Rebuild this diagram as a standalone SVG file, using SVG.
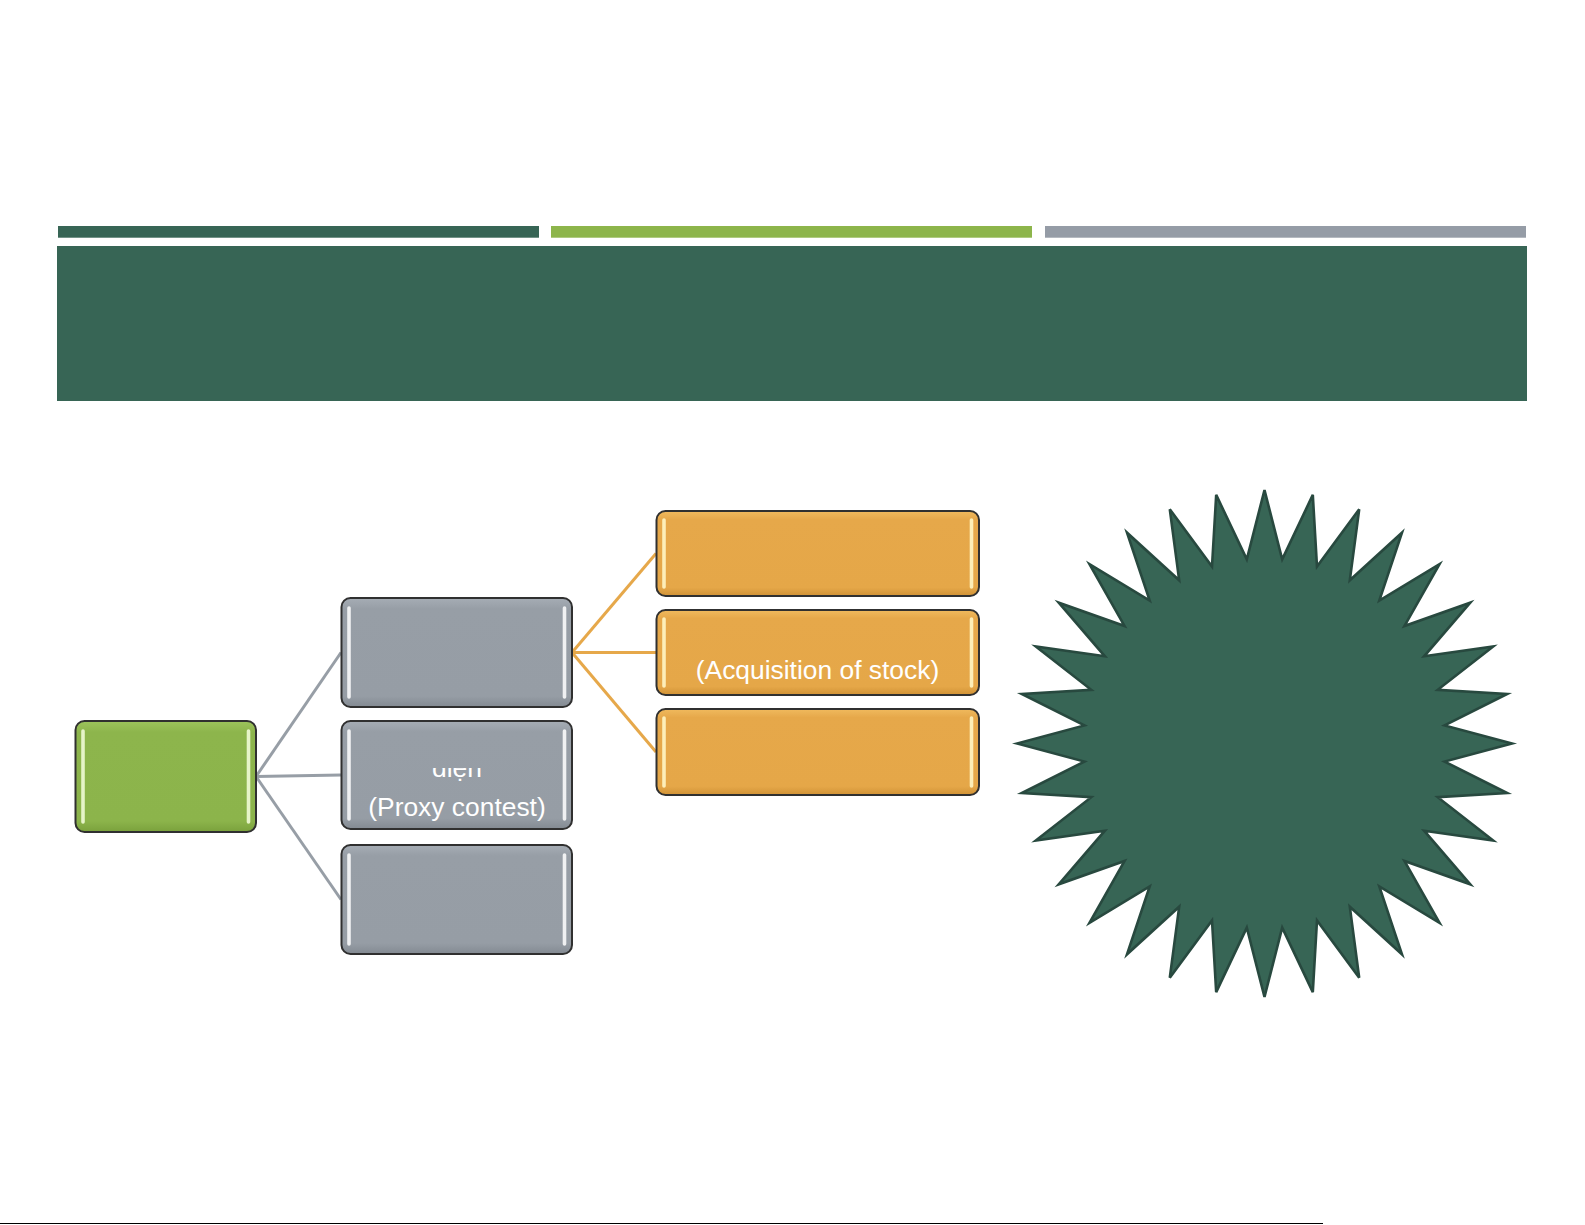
<svg xmlns="http://www.w3.org/2000/svg" width="1585" height="1225" viewBox="0 0 1585 1225">
<defs>
<style>
.box{stroke:#303030;stroke-width:2}
.hl{stroke:#ffffff;stroke-opacity:0.85;stroke-width:3.6;stroke-linecap:round;fill:none}
.hlo{stroke:#fff6c4;stroke-opacity:0.9;stroke-width:3.6;stroke-linecap:round;fill:none}
.hlg{stroke:#f0fbd6;stroke-opacity:0.9;stroke-width:3.6;stroke-linecap:round;fill:none}
.txt{font-family:"Liberation Sans",Arial,sans-serif;font-size:26.4px;fill:#ffffff;text-anchor:middle}
.cg{stroke:#979ea6;stroke-width:3;fill:none}
.co{stroke:#e6a84a;stroke-width:3;fill:none}
</style>
<linearGradient id="gGray" x1="0" y1="0" x2="0" y2="1">
<stop offset="0" stop-color="#a6adb5"/><stop offset="0.1" stop-color="#979ea6"/><stop offset="0.9" stop-color="#969da5"/><stop offset="1" stop-color="#838a92"/>
</linearGradient>
<linearGradient id="gOr" x1="0" y1="0" x2="0" y2="1">
<stop offset="0" stop-color="#f0ba5e"/><stop offset="0.1" stop-color="#e6a84a"/><stop offset="0.9" stop-color="#e5a748"/><stop offset="1" stop-color="#d09236"/>
</linearGradient>
<linearGradient id="gGr" x1="0" y1="0" x2="0" y2="1">
<stop offset="0" stop-color="#9dc45c"/><stop offset="0.1" stop-color="#8db54c"/><stop offset="0.9" stop-color="#8cb44b"/><stop offset="1" stop-color="#7aa13c"/>
</linearGradient>
<clipPath id="clipDien"><rect x="341" y="768" width="231" height="61"/></clipPath>
</defs>
<rect width="1585" height="1225" fill="#ffffff"/>
<g id="header">
<rect x="58" y="226" width="481" height="11.7" fill="#376555"/>
<rect x="551" y="226" width="481" height="11.7" fill="#8db54b"/>
<rect x="1045" y="226" width="481" height="11.7" fill="#959ca6"/>
<rect x="57" y="246" width="1470" height="155" fill="#376555"/>
</g>
<g id="connectors">
<line class="cg" x1="256" y1="776.5" x2="341" y2="652.5"/>
<line class="cg" x1="256" y1="776.5" x2="341" y2="775"/>
<line class="cg" x1="256" y1="776.5" x2="341" y2="899.5"/>
<line class="co" x1="572" y1="652.5" x2="656" y2="553.5"/>
<line class="co" x1="572" y1="652.5" x2="656" y2="652.5"/>
<line class="co" x1="572" y1="652.5" x2="656" y2="752"/>
</g>
<g id="root">
<rect class="box" x="75.5" y="721" width="180.5" height="111" rx="9" fill="url(#gGr)"/>
<line class="hlg" x1="83" y1="731" x2="83" y2="822"/>
<line class="hlg" x1="248.5" y1="731" x2="248.5" y2="822"/>
</g>
<g id="gray1">
<rect class="box" x="341.5" y="598" width="230.5" height="109" rx="9" fill="url(#gGray)"/>
<line class="hl" x1="349" y1="608" x2="349" y2="697"/>
<line class="hl" x1="564.5" y1="608" x2="564.5" y2="697"/>
</g>
<g id="gray2">
<rect class="box" x="341.5" y="721" width="230.5" height="108" rx="9" fill="url(#gGray)"/>
<line class="hl" x1="349" y1="731" x2="349" y2="819"/>
<line class="hl" x1="564.5" y1="731" x2="564.5" y2="819"/>
<text class="txt" x="457" y="777" clip-path="url(#clipDien)">diện</text>
<text class="txt" x="457" y="816">(Proxy contest)</text>
</g>
<g id="gray3">
<rect class="box" x="341.5" y="845" width="230.5" height="109" rx="9" fill="url(#gGray)"/>
<line class="hl" x1="349" y1="855" x2="349" y2="944"/>
<line class="hl" x1="564.5" y1="855" x2="564.5" y2="944"/>
</g>
<g id="orange1">
<rect class="box" x="656.5" y="511" width="322.5" height="85" rx="9" fill="url(#gOr)"/>
<line class="hlo" x1="664" y1="520" x2="664" y2="587"/>
<line class="hlo" x1="971.5" y1="520" x2="971.5" y2="587"/>
</g>
<g id="orange2">
<rect class="box" x="656.5" y="610" width="322.5" height="85" rx="9" fill="url(#gOr)"/>
<line class="hlo" x1="664" y1="619" x2="664" y2="686"/>
<line class="hlo" x1="971.5" y1="619" x2="971.5" y2="686"/>
<text class="txt" x="817.5" y="679">(Acquisition of stock)</text>
</g>
<g id="orange3">
<rect class="box" x="656.5" y="709" width="322.5" height="86" rx="9" fill="url(#gOr)"/>
<line class="hlo" x1="664" y1="718" x2="664" y2="786"/>
<line class="hlo" x1="971.5" y1="718" x2="971.5" y2="786"/>
</g>
<g id="star">
<polygon fill="#376555" stroke="#28493f" stroke-width="2.6" stroke-linejoin="miter" points="1264.5,490 1282.2,559.4 1312.8,494.9 1317,566.5 1359.2,509.3 1349.8,580.3 1402,532.7 1379.3,600.5 1439.5,564.2 1404.4,626.1 1470.3,602.7 1424.1,656.3 1493.2,646.5 1437.7,689.8 1507.2,694 1444.6,725.4 1512,743.5 1444.6,761.6 1507.2,793 1437.7,797.2 1493.2,840.5 1424.1,830.7 1470.3,884.3 1404.4,860.9 1439.5,922.8 1379.3,886.5 1402,954.3 1349.8,906.7 1359.2,977.7 1317,920.5 1312.8,992.1 1282.2,927.6 1264.5,997 1246.8,927.6 1216.2,992.1 1212,920.5 1169.8,977.7 1179.2,906.7 1127,954.3 1149.7,886.5 1089.5,922.8 1124.6,860.9 1058.7,884.3 1104.9,830.7 1035.8,840.5 1091.3,797.2 1021.8,793 1084.4,761.6 1017,743.5 1084.4,725.4 1021.8,694 1091.3,689.8 1035.8,646.5 1104.9,656.3 1058.7,602.7 1124.6,626.1 1089.5,564.2 1149.7,600.5 1127,532.7 1179.2,580.3 1169.8,509.3 1212,566.5 1216.2,494.9 1246.8,559.4"/>
</g>
<g id="footer">
<line x1="0" y1="1223.5" x2="1323" y2="1223.5" stroke="#000000" stroke-width="1.2"/>
</g>
</svg>
